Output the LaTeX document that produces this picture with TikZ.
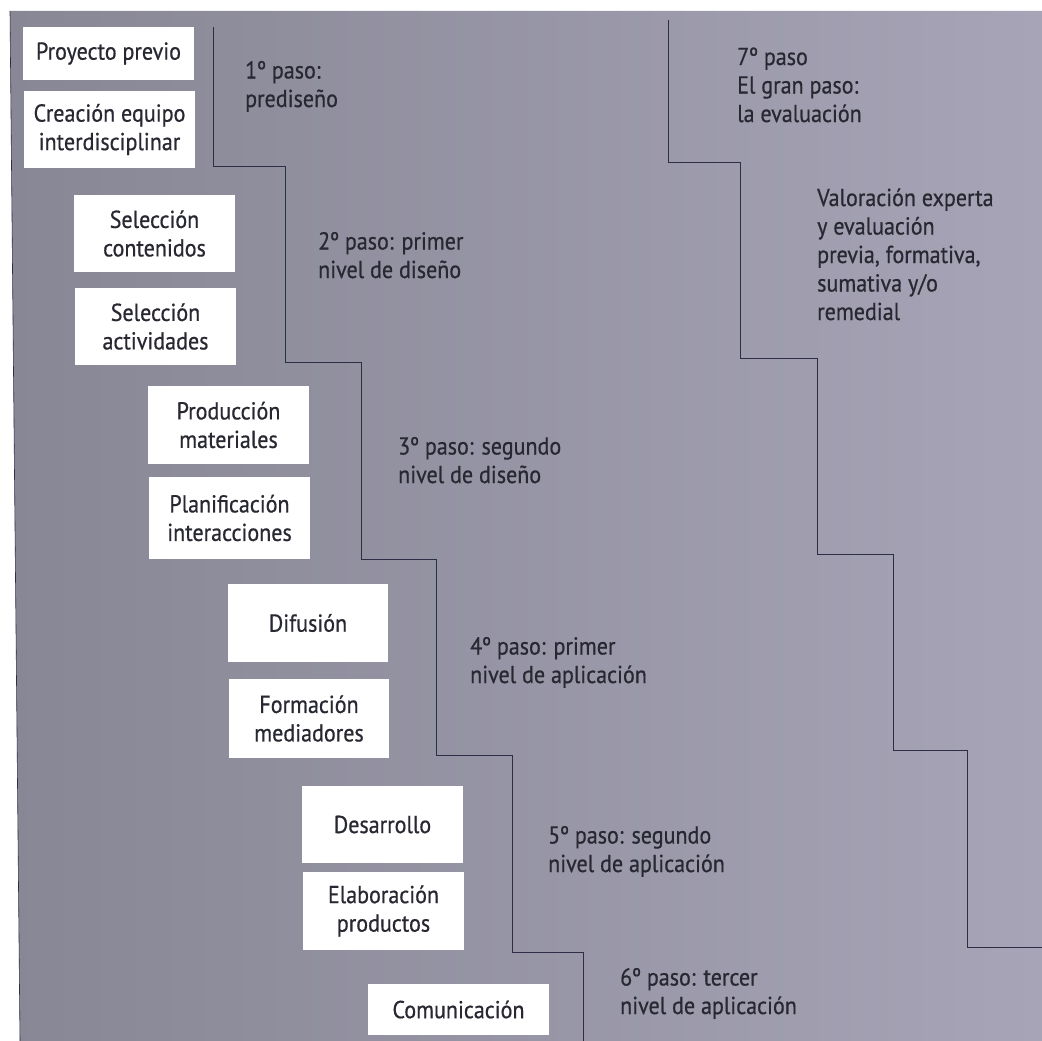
\documentclass[tikz,border=0pt]{standalone}
\usepackage{fontspec}
\setmainfont[FakeStretch=0.9,FakeBold=0.6]{PT Sans}
\definecolor{bgL}{RGB}{136,135,149}
\definecolor{bgR}{RGB}{166,164,182}
\definecolor{ink}{RGB}{40,40,50}
\definecolor{stair}{RGB}{45,45,70}
\begin{document}
\begin{tikzpicture}[x=1pt,y=-1pt,
  every node/.style={font=\fontsize{24.5}{28.5}\selectfont, text=ink},
  stepbox/.style={fill=white, inner sep=0pt, align=center},
  steplabel/.style={anchor=base west, inner sep=0pt, align=left},
  stairline/.style={draw=stair, line width=0.9pt, line join=miter}]
\useasboundingbox (0,0) rectangle (1042,1041);
\fill[white] (0,0) rectangle (1042,1041);
% background
\shade[left color=bgL, right color=bgR] (10,11) -- (1042,11) -- (1042,1041) -- (20,1041) -- cycle;
\draw[stair, line width=0.6pt] (10,11) -- (20,1041);
% staircases
\draw[stairline] (213,27) -- (213,166) -- (285,166) -- (285,362) -- (361,362) -- (361,559) -- (436,559) -- (436,755) -- (512,755) -- (512,952) -- (583,952) -- (583,1041);
\draw[stairline] (668,20) -- (668,162) -- (740,162) -- (740,358) -- (817,358) -- (817,554) -- (893,554) -- (893,750) -- (967,750) -- (967,947) -- (1042,947);
% boxes
\node[stepbox, minimum width=171, minimum height=53] (b1) at (108.5,53.5) {Proyecto previo};
\node[stepbox, minimum width=171, minimum height=77] (b2) at (109.5,129.5) {Creación equipo\\interdisciplinar};
\node[stepbox, minimum width=161, minimum height=77] (b3) at (154.5,233.5) {Selección\\contenidos};
\node[stepbox, minimum width=161, minimum height=77] (b4) at (155.5,326.5) {Selección\\actividades};
\node[stepbox, minimum width=161, minimum height=78] (b5) at (228.5,425) {Producción\\materiales};
\node[stepbox, minimum width=161, minimum height=82] (b6) at (229.5,518) {Planificación\\interacciones};
\node[stepbox, minimum width=160, minimum height=78] (b7) at (308,623) {Difusión};
\node[stepbox, minimum width=160, minimum height=79] (b8) at (309,718.5) {Formación\\mediadores};
\node[stepbox, minimum width=161, minimum height=77] (b9) at (382.5,824.5) {Desarrollo};
\node[stepbox, minimum width=161, minimum height=78] (b10) at (383.5,911) {Elaboración\\productos};
\node[stepbox, minimum width=181, minimum height=51] (b11) at (458.5,1009.5) {Comunicación};
% step labels (anchored at the baseline of the last line)
\node[steplabel] (p1) at (245,107) {1º paso:\\prediseño};
\node[steplabel] (p2) at (318,278) {2º paso: primer\\nivel de diseño};
\node[steplabel] (p3) at (398,483) {3º paso: segundo\\nivel de diseño};
\node[steplabel] (p4) at (470,683) {4º paso: primer\\nivel de aplicación};
\node[steplabel] (p5) at (548,872) {5º paso: segundo\\nivel de aplicación};
\node[steplabel] (p6) at (620,1014) {6º paso: tercer\\nivel de aplicación};
\node[steplabel] (p7) at (737,122) {7º paso\\El gran paso:\\la evaluación};
\node[steplabel] (p8) at (817,320) {Valoración experta\\y evaluación\\previa, formativa,\\sumativa y/o\\remedial};
\end{tikzpicture}
\end{document}
